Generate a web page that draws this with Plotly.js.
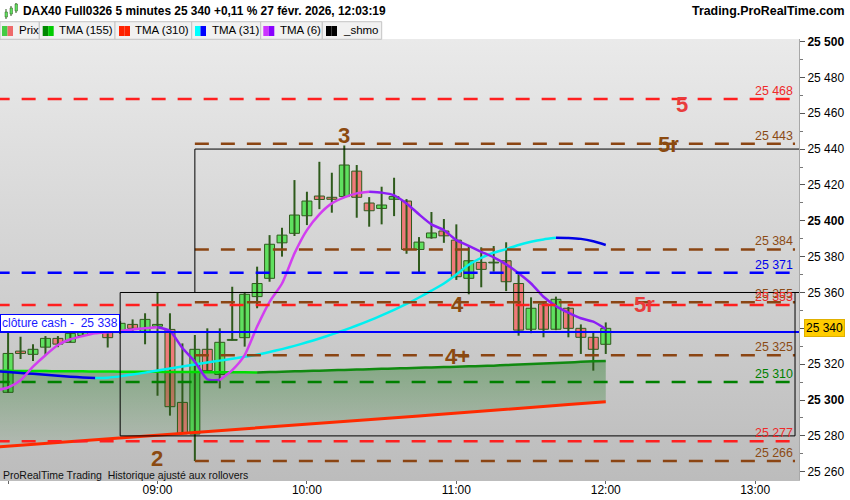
<!DOCTYPE html>
<html>
<head>
<meta charset="utf-8">
<script src="https://cdn.plot.ly/plotly-3.0.1.min.js"></script>
<style>
  html, body { margin:0; padding:0; background:#ffffff; }
  #wrap { position:relative; width:850px; height:500px; }
  #bg { position:absolute; left:0; top:39px; width:799px; height:441px;
        background:linear-gradient(#eaeaea, #bcbcbc); }
  #chart { position:absolute; left:0; top:0; width:850px; height:500px; }
</style>
</head>
<body>
<div id="wrap"><div id="bg"></div><div id="chart"></div></div>
<script>
// ---------- DATA ----------
const DAY = '2026-02-27 ';
const candleTimes = ['08:00','08:05','08:10','08:15','08:20','08:25','08:30','08:35','08:40','08:45','08:50','08:55',
  '09:00','09:05','09:10','09:15','09:20','09:25','09:30','09:35','09:40','09:45','09:50','09:55',
  '10:00','10:05','10:10','10:15','10:20','10:25','10:30','10:35','10:40','10:45','10:50','10:55',
  '11:00','11:05','11:10','11:15','11:20','11:25','11:30','11:35','11:40','11:45','11:50','11:55','12:00'];
const openP = [25304.3,25327.3,25325.5,25329.5,25334.4,25332.2,25336,25340,25338.7,25337.8,25342.2,25338.1,
  25341.2,25339.4,25298.7,25281,25328.3,25314.3,25333.3,25334.8,25357.7,25367.9,25387.7,25393,
  25402.8,25413.8,25413.1,25413.5,25427.7,25409.9,25406.9,25412,25411,25384,25390.5,25394.3,
  25389.2,25367.9,25376.8,25376.5,25377.7,25365,25339.5,25353.6,25339.5,25351.2,25340,25335,25331.1];
const highP = [25338,25335.3,25331.1,25335.7,25335.7,25340.9,25340,25345,25340,25344,25345,25348.4,
  25359.9,25348.4,25331.6,25336.3,25340,25340,25363.2,25360.3,25374.4,25392,25396.1,25422.7,
  25416.2,25432.9,25426.8,25442,25431.1,25413.2,25419,25424,25412.1,25390.9,25404.9,25401,
  25398,25385.5,25385.2,25385.9,25388,25370.7,25357.3,25354,25357.7,25352,25342.2,25338.1,25343.3];
const lowP = [25304,25322.9,25321.8,25325.1,25329.5,25332.2,25335.5,25339,25329.3,25337,25338.1,25331.1,
  25302.4,25291.3,25281,25266,25315.6,25306.5,25333.3,25329.8,25351.2,25366,25380,25391.5,
  25397.6,25406.5,25404.5,25413.2,25401.7,25396.7,25398,25402.6,25381.6,25370.7,25390,25387.7,
  25367,25359,25362.9,25371.6,25360.8,25335.9,25337.3,25335,25339,25335,25325.7,25316.4,25325.7];
const closeP = [25326,25326,25328.3,25334.4,25331.2,25337.2,25338.5,25342,25334.8,25342.8,25340,25345,
  25342.2,25296.3,25281.2,25328.3,25316.4,25332.2,25333.8,25359,25365,25386.9,25392,25403.2,
  25411,25411.9,25412,25431.1,25413.1,25405.6,25408.8,25413.5,25384,25388.1,25393.2,25391.6,
  25368.8,25377.7,25372.9,25376.9,25366,25339,25351.2,25339.5,25356.2,25340,25335,25328.3,25340];

// indicator times: one bar before the first visible candle, then the candles
const lineTimes = ['07:55'].concat(candleTimes);
const tma6 = [25305.5,25307,25311,25318.6,25325,25330.7,25333.9,25335.7,25337.2,25337.8,25338.5,25339.4,25340,
  25340.6,25338.5,25329,25321.4,25311.6,25311.2,25316.7,25325.1,25341,25354.8,25365,25381.8,
  25394.8,25403.6,25409.7,25413.1,25415.3,25416.2,25415.7,25414.2,25409.7,25403.6,25398,25394.8,
  25389.2,25386,25382.7,25379.6,25375.7,25370.7,25365,25357.6,25352.4,25348.7,25345.6,25343.7,25339.6];
const tma31 = [25316,25315.6,25315.1,25314.6,25314.1,25313.5,25313,25312.6,25312.3,25312.5,25313.2,25314.2,25315.3,
  25316.5,25317.6,25318.7,25319.8,25320.9,25322,25323,25324.1,25325.3,25326.8,25328.4,25330.2,
  25332.2,25334.3,25336.6,25339,25341.6,25344.3,25347.2,25350.3,25353.6,25357.2,25361,25365,
  25370,25375.5,25379.3,25382.2,25384.2,25386.5,25388.3,25389.6,25390.5,25390.4,25389.9,25388.6,25386.5];
const tma155 = [25316.4,25316.3,25316.25,25316.2,25316.15,25316.1,25316.05,25316,25315.95,25315.9,25315.85,25315.8,25315.76,
  25315.72,25315.68,25315.64,25315.6,25315.56,25315.52,25315.48,25315.44,25315.4,25315.6,25315.8,25316,
  25316.2,25316.4,25316.6,25316.8,25317,25317.2,25317.4,25317.6,25317.8,25318,25318.2,25318.4,
  25318.6,25318.8,25319,25319.2,25319.5,25319.8,25320.1,25320.4,25320.7,25321,25321.3,25321.6,25321.8];
const tma310 = [25273.8,25274.3,25274.8,25275.3,25275.8,25276.3,25276.8,25277.4,25277.9,25278.4,25278.9,25279.4,25279.9,
  25280.4,25280.9,25281.4,25281.9,25282.4,25282.9,25283.4,25283.9,25284.4,25284.9,25285.4,25285.9,
  25286.4,25286.9,25287.4,25288,25288.5,25289,25289.5,25290,25290.6,25291.1,25291.6,25292.1,
  25292.7,25293.2,25293.7,25294.3,25294.8,25295.3,25295.9,25296.4,25296.9,25297.5,25298,25298.5,25299.1];

// horizontal levels
const levelValues = [25468, 25443, 25384, 25371, 25354.5, 25353, 25325, 25310, 25277, 25266];
const levelLabels = ['25 468','25 443','25 384','25 371','25 355','25 353','25 325','25 310','25 277','25 266'];
const levelKinds  = ['red','brown','brown','blue','brown','red','brown','green','red','brown'];
const levelStart  = ['07:55','09:15','09:15','07:55','09:15','07:55','09:15','07:55','07:55','09:15'];
const cashClose = 25338;
const lastPrice = 25340;

// wave labels
const waveText  = ['2','3','4','4+','5r','5','5r'];
const waveTime  = ['08:59:48','10:14:54','11:00:18','11:00:30','12:25:12','12:30:30','12:15:24'];
const waveValue = [25267.7, 25448, 25353.6, 25324.8, 25443.2, 25465.5, 25354];
const waveKind  = ['brown','brown','brown','brown','brown','red','red'];

// boxes [startTime, endTime, low, high]
const boxes = [['08:45','13:16',25280,25360], ['09:15','13:25',25360,25440]];

const yTicks = [25260,25280,25300,25320,25340,25360,25380,25400,25420,25440,25460,25480,25500];
const xTicks = ['08:00','09:00','10:00','11:00','12:00','13:00'];

// ---------- STYLE ----------
const FONT = 'Liberation Sans, Arial, sans-serif';
const COL = {red:'#ff1f1f', brown:'#8b4513', blue:'#0000ff', green:'#008000'};
const LBL = {red:'#ee2a2a', brown:'#8b4a14', blue:'#0000ee', green:'#008000'};
const WAVE = {red:'#e83c3c', brown:'#8b4a10'};
const WICK = '#2e5a1c';
const T = s => DAY + s;
const PX = px => px / 799;             // paper x from pixel
const PY = py => (480 - py) / 441;     // paper y from pixel

const traces = [];
// fill between TMA310 and TMA155
traces.push({type:'scatter', mode:'lines', x: lineTimes.map(T), y: tma310, line:{width:0, color:'rgba(0,0,0,0)'}, hoverinfo:'skip', showlegend:false});
traces.push({type:'scatter', mode:'lines', x: lineTimes.map(T), y: tma155, line:{width:0, color:'rgba(0,0,0,0)'},
  fill:'tonexty',
  fillgradient:{type:'vertical', start:25274, stop:25322, colorscale:[[0,'rgba(0,100,0,0.07)'],[1,'rgba(0,105,0,0.35)']]},
  hoverinfo:'skip', showlegend:false});

// wicks
const wx = [], wy = [];
candleTimes.forEach((c,i) => { wx.push(T(c), T(c), null); wy.push(lowP[i], highP[i], null); });
traces.push({type:'scatter', mode:'lines', x: wx, y: wy, line:{color:WICK, width:2}, hoverinfo:'skip', showlegend:false});
// bodies
traces.push({type:'bar', x: candleTimes.map(T),
  base: candleTimes.map((c,i) => Math.min(openP[i], closeP[i])),
  y: candleTimes.map((c,i) => Math.max(Math.abs(closeP[i]-openP[i]), 0.4)),
  width: 240000,
  marker:{color: candleTimes.map((c,i) => closeP[i] >= openP[i] ? '#5fe05f' : '#ef7a7a'), line:{color:WICK, width:1}},
  hoverinfo:'skip', showlegend:false});

function twoTone(ys, up, down, width) {
  const xs = lineTimes.map(T), out = [];
  const dir = i => (ys[i+1] >= ys[i] ? 1 : -1);
  let start = 0;
  for (let i = 0; i < ys.length - 1; i++) {
    if (i === ys.length - 2 || dir(i+1) !== dir(i)) {
      out.push({type:'scatter', mode:'lines', x: xs.slice(start, i+2), y: ys.slice(start, i+2),
        line:{color: dir(i) > 0 ? up : down, width: width, shape:'spline', smoothing:0.6}, hoverinfo:'skip', showlegend:false});
      start = i + 1;
    }
  }
  return out;
}
traces.push({type:'scatter', mode:'lines', x: lineTimes.map(T), y: tma310, line:{color:'#ff2a00', width:3}, hoverinfo:'skip', showlegend:false});
twoTone(tma155, '#108a10', '#00dd00', 2.5).forEach(t => traces.push(t));
twoTone(tma31, '#00f0f0', '#0000e6', 2.5).forEach(t => traces.push(t));
twoTone(tma6, '#d23ef0', '#8c1ef5', 2.5).forEach(t => traces.push(t));

// ---------- SHAPES ----------
const shapes = [];
levelValues.forEach((v,i) => {
  shapes.push({type:'line', xref:'x', yref:'y', x0:T(levelStart[i]), x1:T('13:16'), y0:v, y1:v,
    line:{color:COL[levelKinds[i]], width:2.5, dash:'14px,12px'}, layer:'above'});
});
shapes.push({type:'line', xref:'x', yref:'y', x0:T('07:55'), x1:T('13:25'), y0:cashClose, y1:cashClose,
  line:{color:'#0000ff', width:2}, layer:'above'});
boxes.forEach(b => shapes.push({type:'rect', xref:'x', yref:'y', x0:T(b[0]), x1:T(b[1]), y0:b[2], y1:b[3],
  line:{color:'#000', width:1}, fillcolor:'rgba(0,0,0,0)', layer:'above'}));

// legend row
const cellEdges = [0, 39.3, 115, 191.7, 260.7, 322.3, 381.7];
for (let i = 0; i < cellEdges.length - 1; i++) {
  shapes.push({type:'rect', xref:'paper', yref:'paper', x0:PX(cellEdges[i]), x1:PX(cellEdges[i+1]), y0:PY(39.3), y1:PY(21.7),
    line:{color:'#c4c4c4', width:1}, fillcolor:'#f1f1f1'});
}
const swatches = [[2,'#44cc44','#ee6a6a'],[42.7,'#008800','#00cc00'],[119,'#ff2200','#ff2200'],
                  [195,'#00ffff','#0000ff'],[263.3,'#cc33ff','#8800ff'],[326,'#000000','#000000']];
swatches.forEach(s => {
  shapes.push({type:'rect', xref:'paper', yref:'paper', x0:PX(s[0]), x1:PX(s[0]+5.5), y0:PY(36), y1:PY(26), line:{width:0}, fillcolor:s[1]});
  shapes.push({type:'rect', xref:'paper', yref:'paper', x0:PX(s[0]+5.5), x1:PX(s[0]+11), y0:PY(36), y1:PY(26), line:{width:0}, fillcolor:s[2]});
});
// small candle icon in header
[[5,12,17,9,19],[10,8,14,6,16],[15,4,11,3,13]].forEach(c => {
  shapes.push({type:'line', xref:'paper', yref:'paper', x0:PX(c[0]+1), x1:PX(c[0]+1), y0:PY(c[4]), y1:PY(c[3]), line:{color:WICK, width:1}});
  shapes.push({type:'rect', xref:'paper', yref:'paper', x0:PX(c[0]), x1:PX(c[0]+2.5), y0:PY(c[2]), y1:PY(c[1]), line:{color:WICK, width:0.5}, fillcolor:'#5fe05f'});
});

// ---------- ANNOTATIONS ----------
const ann = [];
ann.push({xref:'paper', yref:'paper', x:PX(21), y:PY(11), xanchor:'left', yanchor:'middle', showarrow:false,
  text:'<b>DAX40 Full0326 5 minutes 25 340 +0,11 % 27 févr. 2026, 12:03:19</b>', font:{family:FONT, size:11.9, color:'#000'}});
ann.push({xref:'paper', yref:'paper', x:PX(847), y:PY(11), xanchor:'right', yanchor:'middle', showarrow:false,
  text:'<b>Trading.ProRealTime.com</b>', font:{family:FONT, size:12.4, color:'#000'}});
const legendText = [['Prix',16.5],['TMA (155)',57.3],['TMA (310)',133.3],['TMA (31)',209.7],['TMA (6)',277.7],['_shmo',340.7]];
legendText.forEach(l => ann.push({xref:'paper', yref:'paper', x:PX(l[1]), y:PY(30.5), xanchor:'left', yanchor:'middle', showarrow:false,
  text:l[0], font:{family:FONT, size:11.5, color:'#000'}}));
levelValues.forEach((v,i) => ann.push({xref:'x', yref:'y', x:T('13:16'), y:v, xanchor:'right', yanchor:'bottom', showarrow:false,
  text:levelLabels[i], font:{family:FONT, size:12.4, color:LBL[levelKinds[i]]}, yshift:-1}));
waveText.forEach((s,i) => ann.push({xref:'x', yref:'y', x:T(waveTime[i]), y:waveValue[i], xanchor:'center', yanchor:'middle', showarrow:false,
  text:'<b>'+s+'</b>', font:{family:FONT, size:22, color:WAVE[waveKind[i]]}, yshift:-1}));
ann.push({xref:'paper', yref:'y', x:0, y:cashClose, xanchor:'left', yanchor:'bottom', showarrow:false,
  text:'clôture cash -&nbsp; 25 338', font:{family:FONT, size:12, color:'#1a1aff'},
  bgcolor:'#ffffff', bordercolor:'#0000ff', borderwidth:1, borderpad:1, yshift:0});
ann.push({xref:'paper', yref:'y', x:PX(804), y:lastPrice, xanchor:'left', yanchor:'middle', showarrow:false,
  text:'25 340', font:{family:FONT, size:12, color:'#000'}, bgcolor:'#ffcc00', bordercolor:'#e0b000', borderwidth:1, borderpad:1});
ann.push({xref:'paper', yref:'paper', x:PX(1), y:PY(475), xanchor:'left', yanchor:'middle', showarrow:false,
  text:'ProRealTime Trading&nbsp; Historique ajusté aux rollovers', font:{family:FONT, size:10.5, color:'#111'}});

const fmt = v => String(v).slice(0,2) + ' ' + String(v).slice(2);
const yText = yTicks.map(v => v === lastPrice ? '' : (v % 100 === 0 ? '<b>'+fmt(v)+'</b>' : fmt(v)));
const yMinor = [];
yTicks.forEach(v => { if (v + 10 <= 25500) yMinor.push(v + 10); });

const layout = {
  width:850, height:500,
  margin:{l:0, r:51, t:39, b:20, pad:0},
  paper_bgcolor:'rgba(0,0,0,0)', plot_bgcolor:'rgba(0,0,0,0)',
  showlegend:false, hovermode:false, bargap:0,
  font:{family:FONT, size:12, color:'#000'},
  xaxis:{type:'date', range:[T('07:56:45'), T('13:17:36')], showgrid:false, zeroline:false,
    tickmode:'array', tickvals:xTicks.map(T), ticktext:xTicks.map(s => s === '08:00' ? '' : s),
    ticks:'outside', ticklen:3, tickcolor:'#666', showline:true, linecolor:'#bdbdbd', linewidth:1,
    ticklabelstandoff:-4,
    tickfont:{family:FONT, size:12, color:'#000'}, fixedrange:true},
  yaxis:{side:'right', range:[25255.4, 25501.4], showgrid:false, zeroline:false,
    tickmode:'array', tickvals:yTicks, ticktext:yText, ticks:'outside', ticklen:5, tickcolor:'#555',
    minor:{tickmode:'array', tickvals:yMinor, ticks:'outside', ticklen:3, tickcolor:'#777'},
    showline:true, linecolor:'#a8a8a8', linewidth:1,
    tickfont:{family:FONT, size:12, color:'#000'}, fixedrange:true},
  shapes:shapes, annotations:ann
};
Plotly.newPlot('chart', traces, layout, {staticPlot:true, displayModeBar:false});
</script>
</body>
</html>
